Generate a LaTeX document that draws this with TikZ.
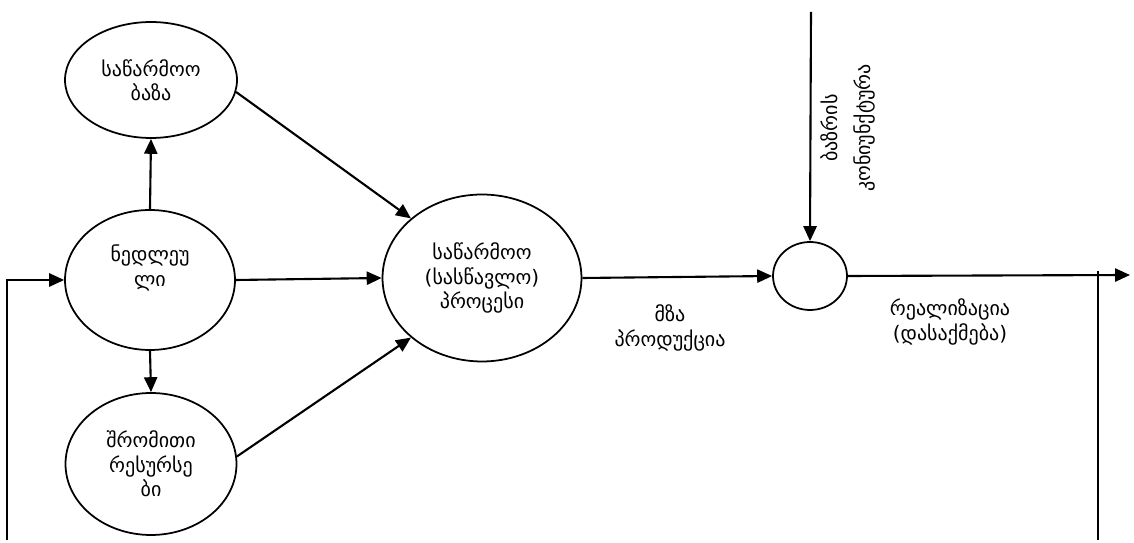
\documentclass[tikz,border=0pt]{standalone}
\usepackage{fontspec}
\setmainfont{DejaVu Sans}
\usetikzlibrary{shapes.geometric,arrows.meta}
\tikzset{
  blob/.style={ellipse,draw,line width=1pt,inner sep=0pt,align=center,font=\fontsize{11.4}{13.8}\selectfont},
  arr/.style={line width=1.2pt,-{Triangle[length=8.5pt,width=7.5pt]}},
  ln/.style={line width=1.2pt},
  lbl/.style={align=center,font=\fontsize{11.4}{13.8}\selectfont},
}

\begin{document}
\begin{tikzpicture}[x=0.02cm,y=-0.02cm]
\useasboundingbox (0,0) rectangle (1134,543);

\node[blob,minimum width=3.44cm,minimum height=2.32cm] (baza) at (151,80) {საწარმოო\\ბაზა};
\node[blob,minimum width=3.4cm,minimum height=2.8cm,label={[lbl,yshift=0.24cm]center:ნედლეუ\\ლი}] (nedl) at (150,280) {};
\node[blob,minimum width=3.42cm,minimum height=2.84cm] (shrom) at (151,464) {შრომითი\\რესურსე\\ბი};
\node[blob,minimum width=3.98cm,minimum height=3.34cm] (proc) at (482,278) {საწარმოო\\(სასწავლო)\\პროცესი};
\node[blob,minimum width=1.48cm,minimum height=1.36cm] (bazari) at (810,276) {};

\node[lbl] (mza) at (670,328) {მზა\\პროდუქცია};
\node[lbl] (real) at (950,322) {რეალიზაცია\\(დასაქმება)};
\node[lbl,rotate=90,font=\fontsize{11.4}{18.5}\selectfont] (konj) at (848,128) {ბაზრის\\კონიუნქტურა};

\coordinate (top) at (811,12);
\coordinate (out) at (1130,275);
\coordinate (lb) at (7,540);
\coordinate (rb) at (1098,540);
\coordinate (rt) at (1098,271);

\draw[arr] (nedl.north) -- (baza.south);
\draw[arr] (nedl.south) -- (shrom.north);
\draw[arr] (nedl.east) -- (proc.west);
\draw[arr] (baza.-8) -- (proc.140);
\draw[arr] (shrom.5) -- (proc.220);
\draw[arr] (proc.east) -- (bazari.west);
\draw[arr] (top) -- (bazari.north);
\draw[arr] (bazari.east) -- (out);
\draw[arr] (lb) |- (nedl.west);
\draw[ln] (rb) -- (rt);
\end{tikzpicture}
\end{document}
